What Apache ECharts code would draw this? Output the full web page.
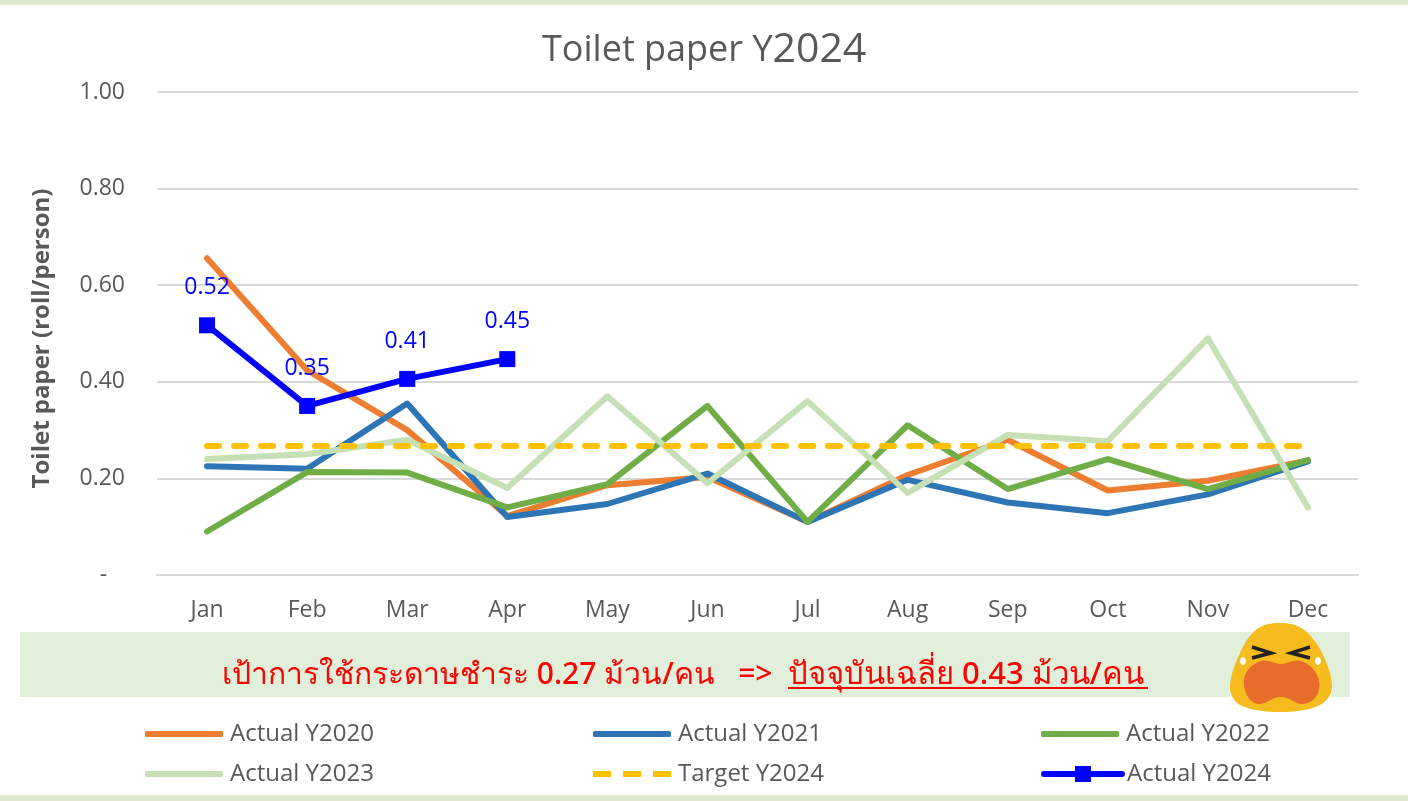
<!DOCTYPE html>
<html><head><meta charset="utf-8">
<style>html,body{margin:0;padding:0;background:#fff}#c{width:1408px;height:801px}</style>
<script src="https://cdn.jsdelivr.net/npm/echarts@6/dist/echarts.min.js"></script>
</head><body><div id="c"></div>
<script>
const months = ['Jan','Feb','Mar','Apr','May','Jun','Jul','Aug','Sep','Oct','Nov','Dec'];
const actual2020 = [0.656,0.424,0.300,0.122,0.186,0.203,0.110,0.207,0.280,0.175,0.195,0.237];
const actual2021 = [0.225,0.220,0.355,0.120,0.147,0.210,0.110,0.197,0.150,0.128,0.167,0.235];
const actual2022 = [0.090,0.213,0.212,0.140,0.188,0.350,0.110,0.310,0.178,0.240,0.178,0.238];
const actual2023 = [0.240,0.250,0.280,0.180,0.370,0.190,0.360,0.170,0.290,0.277,0.490,0.140];
const target2024 = [0.267,0.267,0.267,0.267,0.267,0.267,0.267,0.267,0.267,0.267,0.267,0.267];
const actual2024 = [0.517,0.350,0.406,0.447];
const FONT = '"Open Sans","Noto Sans",sans-serif';
const GREY = '#595959';
const line = (name,data,color,width,z,extra) => Object.assign({
  name,type:'line',data,z,symbol:'none',showSymbol:false,animation:false,
  lineStyle:{color,width,cap:'round',join:'round'},itemStyle:{color}
},extra||{});
const legendItem = (left,top,name,icon,itemHeight,pad) => ({
  left,top,padding:0,orient:'horizontal',itemWidth:78,itemHeight,itemGap:0,
  lineStyle:{width:'inherit'},
  data:[icon?{name,icon}:{name}],
  textStyle:{color:GREY,fontSize:24,fontFamily:FONT,lineHeight:26,padding:[2,0,0,pad]}
});
const DASHES = 'path://M0 0H18V6H0ZM30 0H48V6H30ZM60 0H78V6H60Z';
const chart = echarts.init(document.getElementById('c'),null,{renderer:'canvas'});
chart.setOption({
  animation:false,backgroundColor:'#fff',
  title:{text:'{a|Toilet paper Y}{b|2024}',left:537,top:25,
    textStyle:{fontWeight:'normal',rich:{
      a:{color:GREY,fontSize:36,fontWeight:'normal',fontFamily:FONT},
      b:{color:GREY,fontSize:41,fontWeight:'normal',fontFamily:FONT}
    }}},
  grid:{left:157,right:50,top:92,height:483,containLabel:false},
  legend:[
    legendItem(145,720,'Actual Y2020','roundRect',6,2),
    legendItem(593,720,'Actual Y2021','roundRect',6,2),
    legendItem(1041,720,'Actual Y2022','roundRect',6,2),
    legendItem(145,760,'Actual Y2023','roundRect',6,2),
    legendItem(593,760,'Target Y2024',DASHES,6,2),
    legendItem(1041,760,'Actual Y2024',null,20,0)
  ],
  xAxis:{type:'category',data:months,boundaryGap:true,
    axisLine:{lineStyle:{color:'#d9d9d9',width:2}},axisTick:{show:false},
    axisLabel:{color:GREY,fontSize:23,fontFamily:FONT,margin:24}},
  yAxis:{type:'value',min:0,max:1,interval:0.2,
    name:'Toilet paper (roll/person)',nameLocation:'middle',nameGap:103,nameRotate:90,
    nameTextStyle:{color:GREY,fontSize:24,fontWeight:'bold',fontFamily:FONT,padding:[0,10,0,0]},
    axisLine:{show:false},axisTick:{show:false},
    splitLine:{lineStyle:{color:'#d9d9d9',width:2}},
    axisLabel:{color:GREY,fontSize:23,fontFamily:FONT,margin:32,
      formatter:v=>v===0?'-   ':v.toFixed(2)}},
  series:[
    line('Actual Y2020',actual2020,'#ed7d31',6,2),
    line('Actual Y2021',actual2021,'#2e75b6',6,3),
    line('Actual Y2022',actual2022,'#70ad47',6,4),
    line('Actual Y2023',actual2023,'#c5e0b4',6,5),
    line('Target Y2024',target2024,'#ffc000',6,6,{lineStyle:{color:'#ffc000',width:6,type:[12,15],cap:'round'}}),
    line('Actual Y2024',actual2024,'#0000ff',6,7,{
      symbol:'rect',symbolSize:16,showSymbol:true,
      label:{show:true,position:'top',distance:18,color:'#0000ff',fontSize:23,fontFamily:FONT,
        formatter:p=>p.value.toFixed(2)}
    })
  ],
  graphic:[
    {type:'rect',z:0,silent:true,shape:{x:0,y:0,width:1408,height:5},style:{fill:'#dfe6d2'}},
    {type:'rect',z:0,silent:true,shape:{x:0,y:795,width:1408,height:6},style:{fill:'#dfe6d2'}},
    {type:'rect',z:0,silent:true,shape:{x:20,y:632,width:1330,height:65},style:{fill:'#e2efda'}},
    {type:'text',z:10,silent:true,x:222,y:675,style:{text:'เป้าการใช้กระดาษชำระ 0.27 ม้วน/คน   =>',
      fill:'#ff0000',font:'500 30px "Noto Sans","Open Sans",sans-serif',textVerticalAlign:'middle'}},
    {type:'text',z:10,silent:true,x:788,y:675,style:{text:'ปัจจุบันเฉลี่ย 0.43 ม้วน/คน',
      fill:'#ff0000',font:'500 31px "Noto Sans","Open Sans",sans-serif',textVerticalAlign:'middle'}},
    {type:'line',z:10,silent:true,shape:{x1:788,y1:688,x2:1148,y2:688},style:{stroke:'#ff0000',lineWidth:2}},
    // crying face decoration
    {type:'polygon',z:11,silent:true,shape:{points:[[1229,687],[1237,697],[1231,700]]},style:{fill:'#ffffff'}},
    {type:'polygon',z:11,silent:true,shape:{points:[[1333,687],[1325,697],[1331,700]]},style:{fill:'#ffffff'}},
    {type:'polygon',z:11,silent:true,shape:{smooth:0.35,points:[[1280,623],[1303,629],[1322,653],[1332,688],[1320,705],[1280,712],[1240,705],[1230,688],[1240,653],[1257,629]]},style:{fill:'#f6bb1c'}},
    {type:'polygon',z:12,silent:true,shape:{smooth:0.4,points:[[1262,661],[1281,664],[1300,661],[1316,673],[1318,693],[1304,704],[1281,697],[1258,704],[1246,693],[1246,673]]},style:{fill:'#e86c2c'}},
    {type:'polyline',z:12,silent:true,shape:{points:[[1252,647],[1271,653],[1252,658]]},style:{stroke:'#222',lineWidth:3.5,fill:'none'}},
    {type:'polyline',z:12,silent:true,shape:{points:[[1310,647],[1291,653],[1310,658]]},style:{stroke:'#222',lineWidth:3.5,fill:'none'}},
    {type:'ellipse',z:12,silent:true,shape:{cx:1243,cy:661,rx:3,ry:4},style:{fill:'#fff'}},
    {type:'ellipse',z:12,silent:true,shape:{cx:1318,cy:661,rx:3,ry:4},style:{fill:'#fff'}}
  ]
});
</script></body></html>
